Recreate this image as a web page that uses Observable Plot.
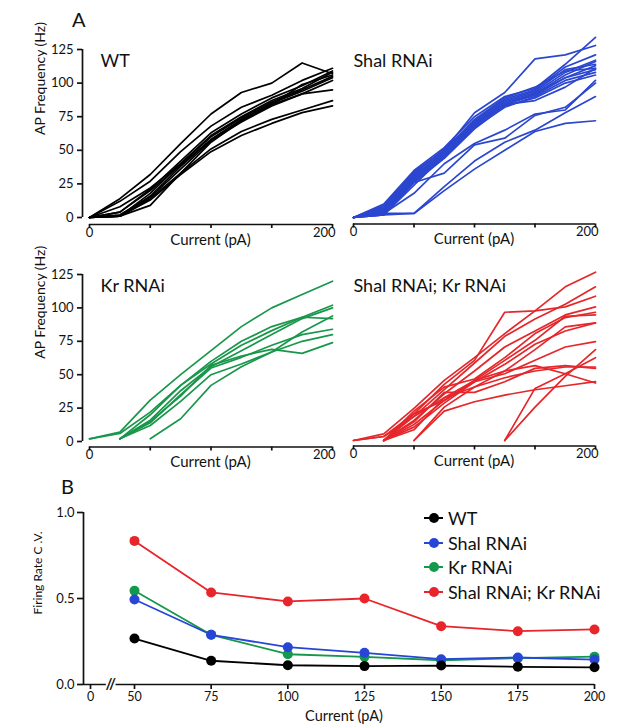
<!DOCTYPE html>
<html><head><meta charset="utf-8">
<script src="https://cdn.jsdelivr.net/npm/d3@7"></script>
<script src="https://cdn.jsdelivr.net/npm/@observablehq/plot@0.6"></script>
<style>
body{margin:0;background:#fff;font-family:Lato,sans-serif;color:#111;}
#fig{position:relative;width:617px;height:728px;overflow:hidden;}
.abs{position:absolute;}
</style></head><body><div id="fig"></div>
<script>
// ---------- data ----------
const currents = [0, 25, 50, 75, 100, 125, 150, 175, 200];
const freqTicks = [0, 25, 50, 75, 100, 125];
const currentTicks = [0, 50, 100, 150, 200];
const freqDomain = [0, 125];

const wtCells = [
  [0,14,32,55,77,93,100,115,107],
  [0,12,27,49,68,82,91,102,111],
  [0,4,21,42,63,77,89,98,109],
  [0,1,18,40,61,75,87,96,108],
  [0,8,22,40,60,74,86,95,105],
  [0,1,16,38,58,73,85,94,104],
  [0,2,15,36,57,71,83,92,102],
  [0,1,9,33,56,72,84,99,106],
  [0,1,14,33,51,64,73,80,87],
  [0,1,13,32,49,61,70,78,83],
  [0,4,20,39,58,72,84,92,95]
];
const shalCells = [
  [0,8,33,50,78,93,118,121,128],
  [0,10,35,52,75,90,96,114,134],
  [0,6,31,49,72,88,95,112,121],
  [0,5,30,48,70,86,93,108,117],
  [0,4,29,47,69,85,92,106,116],
  [0,7,32,51,71,87,94,110,114],
  [0,3,28,46,68,84,91,104,113],
  [0,9,34,50,73,89,97,109,111],
  [0,4,27,45,67,82,90,102,108],
  [0,2,26,44,66,83,89,100,106],
  [0,3,18,40,55,65,77,80,102],
  [0,3,26,33,54,59,76,82,100],
  [0,3,3,23,42,56,65,78,90],
  [0,2,3,20,36,50,64,70,72],
  [0,5,30,49,70,84,87,97,111],
  [0,2,24,46,68,84,92,104,110]
];
const krCells = [
  [2,7,31,50,68,86,100,110,120],
  [2,6,22,42,60,75,86,93,92],
  [null,2,20,42,58,72,83,93,102],
  [null,2,16,38,56,68,80,92,100],
  [null,2,14,35,55,63,72,80,84],
  [null,2,15,34,57,64,69,66,74],
  [null,2,12,30,50,58,67,75,80],
  [null,null,2,17,42,56,67,82,94]
];
const shalKrCells = [
  [0,5,24,45,62,80,97,115,126],
  [0,3,20,42,60,96,97,100,108],
  [null,0,18,38,58,78,91,102,115],
  [null,0,15,35,52,70,82,94,100],
  [null,0,22,40,46,62,80,92,96],
  [null,0,12,30,45,60,75,93,94],
  [null,null,0,25,40,52,68,85,88],
  [null,0,10,28,44,50,60,70,74],
  [null,0,8,32,40,47,52,55,55],
  [null,0,14,36,36,44,54,56,54],
  [null,null,0,22,29,34,38,41,44],
  [null,null,null,null,null,0,39,50,62],
  [null,null,null,null,null,0,25,48,68],
  [0,3,18,32,45,52,56,50,43],
  [null,0,20,30,44,57,72,82,88]
];

const seriesNames = ["WT", "Shal RNAi", "Kr RNAi", "Shal RNAi; Kr RNAi"];
const seriesColors = ["#000000", "#2746d8", "#14984c", "#e8252b"];
const panelColors = ["#000000", "#2b46cf", "#18974a", "#e5262a"];
const cvCurrents = [50, 75, 100, 125, 150, 175, 200];
const cvWT     = [0.267, 0.138, 0.112, 0.107, 0.110, 0.103, 0.100];
const cvShal   = [0.494, 0.289, 0.217, 0.184, 0.147, 0.157, 0.145];
const cvKr     = [0.545, 0.289, 0.176, 0.161, 0.141, 0.153, 0.162];
const cvShalKr = [0.835, 0.535, 0.483, 0.500, 0.339, 0.310, 0.320];
const cvTicks = [0, 0.5, 1];
const cvCurrentTicks = [0, 50, 75, 100, 125, 150, 175, 200];
const axisBreak = {from: 18, to: 29, at: 23};

// ---------- helpers ----------
const fig = document.getElementById("fig");
const baseStyle = {fontFamily: "Lato, sans-serif", fontSize: "13px", color: "#111", background: "transparent", maxWidth: "none", overflow: "visible"};
function place(node, left, top) {
  node.classList.add("abs");
  node.style.left = left + "px";
  node.style.top = top + "px";
  fig.appendChild(node);
}
function tidy(cells) {
  return cells.flatMap((vals, c) => vals.map((f, i) => ({cell: c, current: currents[i], freq: f})));
}

function panelA(p) {
  const data = tidy(p.cells);
  const L = p.left, T = p.top, W = p.w, H = p.h;
  const x0 = p.x0 - L, x1 = p.x1 - L, y0 = p.y0 - T, y1 = p.y1 - T;
  const frameLeft = x0 - 7, frameBottom = p.axisLine - T;
  const last = currentTicks[currentTicks.length - 1];
  const marks = [
    Plot.ruleY([0], {x1: currentTicks[0], x2: last, dy: frameBottom - y0, stroke: "#111", strokeWidth: 1.7}),
    Plot.axisX({ticks: currentTicks, tickFormat: () => "", tickSize: 4, stroke: "#111", strokeWidth: 1.7, label: null}),
    Plot.text([currentTicks[0]], {x: d => d, frameAnchor: "bottom", dy: 12, fontSize: 13, fill: "#111"}),
    Plot.text([last], {x: d => d, frameAnchor: "bottom", dy: 12, dx: 3, textAnchor: "end", fontSize: 13, fill: "#111"}),
    Plot.text(["Current (pA)"], {frameAnchor: "bottom", dy: 20, dx: 3, fontSize: 15, fill: "#111"}),
    Plot.line(data, {x: "current", y: "freq", z: "cell", stroke: p.color, strokeWidth: 1.7}),
    Plot.text([p.title], {frameAnchor: "top-left", textAnchor: "start", lineAnchor: "bottom",
      dx: p.titleX - L - frameLeft, dy: p.titleY - p.y1, fontSize: 18, fill: "#111"})
  ];
  if (p.showY) {
    marks.push(
      Plot.ruleX([0], {y1: freqDomain[0], y2: freqDomain[1], dx: -7, stroke: "#111", strokeWidth: 1.7}),
      Plot.axisY({ticks: freqTicks, tickSize: 5, tickPadding: 4, fontSize: 13, stroke: "#111", strokeWidth: 1.7, label: null}),
      Plot.text(["AP Frequency (Hz)"], {frameAnchor: "left", rotate: -90, dx: 40 - (p.x0 - 7), dy: -2, fontSize: 14, fill: "#111"})
    );
  }
  return Plot.plot({
    width: W, height: H,
    marginLeft: frameLeft, marginRight: W - x1, marginTop: y1, marginBottom: H - frameBottom,
    x: {domain: [currentTicks[0], last], range: [x0, x1], axis: null},
    y: {domain: freqDomain, range: [y0, y1], axis: null},
    style: baseStyle,
    marks
  });
}

// ---------- panel A ----------
place(panelA({cells: wtCells, color: panelColors[0], title: seriesNames[0], showY: true,
  left: 0, top: 0, w: 340, h: 255, x0: 89, x1: 332, y0: 217, y1: 49, axisLine: 224, titleX: 100, titleY: 66}), 0, 0);
place(panelA({cells: shalCells, color: panelColors[1], title: seriesNames[1], showY: false,
  left: 340, top: 0, w: 277, h: 255, x0: 353, x1: 595, y0: 217, y1: 49, axisLine: 223.5, titleX: 353, titleY: 66}), 340, 0);
place(panelA({cells: krCells, color: panelColors[2], title: seriesNames[2], showY: true,
  left: 0, top: 255, w: 340, h: 225, x0: 89, x1: 332, y0: 441, y1: 274, axisLine: 446.5, titleX: 100, titleY: 291}), 0, 255);
place(panelA({cells: shalKrCells, color: panelColors[3], title: seriesNames[3], showY: false,
  left: 340, top: 255, w: 277, h: 225, x0: 353, x1: 595, y0: 440, y1: 273, axisLine: 445.5, titleX: 353, titleY: 291}), 340, 255);

// ---------- panel B ----------
const cvSeries = [cvWT, cvShal, cvKr, cvShalKr];
const drawOrder = [3, 2, 1, 0];
const cvData = drawOrder.flatMap(s => cvCurrents.map((c, i) => ({series: seriesNames[s], current: c, cv: cvSeries[s][i]})));

const plotB = Plot.plot({
  width: 617, height: 248,
  marginLeft: 83, marginRight: 23, marginTop: 32, marginBottom: 44,
  x: {type: "linear", domain: [0, 50, 200], range: [90, 134, 594], axis: null},
  y: {domain: [0, 1], range: [204, 32], axis: null},
  color: {domain: seriesNames, range: seriesColors},
  style: baseStyle,
  marks: [
    Plot.ruleY([0], {stroke: "#111", strokeWidth: 1.7}),
    Plot.ruleY([0], {x1: axisBreak.from, x2: axisBreak.to, stroke: "white", strokeWidth: 5}),
    Plot.text(["//"], {x: axisBreak.at, y: 0, fontSize: 15, fontWeight: "bold", fill: "#111"}),
    Plot.ruleX([0], {y1: 0, y2: 1, dx: -7, stroke: "#111", strokeWidth: 1.7}),
    Plot.axisX({ticks: cvCurrentTicks, tickSize: 5, tickPadding: 3, fontSize: 12.5, stroke: "#111", strokeWidth: 1.7, label: null}),
    Plot.axisY({ticks: cvTicks, tickFormat: d3.format(".1f"), tickSize: 6, tickPadding: 3, fontSize: 13, stroke: "#111", strokeWidth: 1.7, label: null}),
    Plot.text(["Firing Rate C .V."], {frameAnchor: "left", rotate: -90, dx: -45, dy: 16, fontSize: 12, fill: "#111"}),
    Plot.text(["Current (pA)"], {frameAnchor: "bottom", dx: 5, dy: 36, fontSize: 14.5, fill: "#111"}),
    Plot.line(cvData, {x: "current", y: "cv", z: "series", stroke: "series", strokeWidth: 1.8}),
    Plot.dot(cvData, {x: "current", y: "cv", fill: "series", r: 5})
  ]
});
place(plotB, 0, 480);

// ---------- legend ----------
const legend = document.createElement("div");
legend.style.cssText = "font-size:18px;font-family:Lato,sans-serif;color:#111;";
seriesNames.forEach((name, i) => {
  const row = document.createElement("div");
  row.style.cssText = "height:24.7px;display:flex;align-items:center;white-space:nowrap;";
  row.innerHTML = `<svg width="23" height="12" style="margin-right:1px"><line x1="0" x2="19" y1="6" y2="6" stroke="${seriesColors[i]}" stroke-width="2"/><circle cx="10" cy="6" r="5" fill="${seriesColors[i]}"/></svg><span>${name}</span>`;
  legend.appendChild(row);
});
place(legend, 424, 505.6);

// ---------- panel letters ----------
[["A", 72, 9], ["B", 61, 476]].forEach(([t, x, y]) => {
  const d = document.createElement("div");
  d.textContent = t;
  d.style.cssText = "font-size:20px;line-height:20px;font-family:Lato,sans-serif;color:#111;";
  place(d, x, y);
});
</script></body></html>
